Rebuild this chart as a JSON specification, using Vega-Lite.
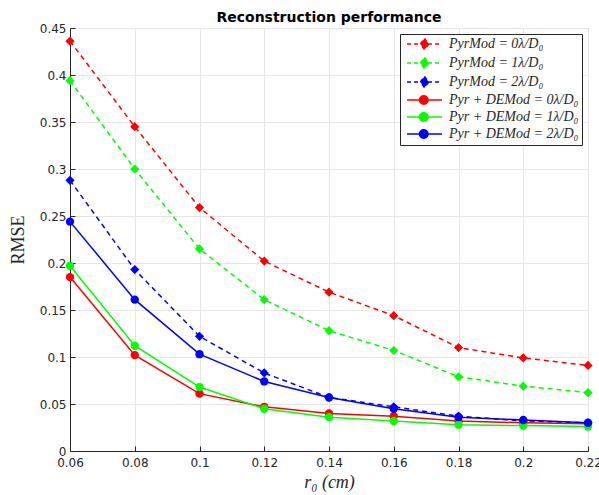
{
  "$schema": "https://vega.github.io/schema/vega-lite/v6.json",
  "width": 518,
  "height": 423,
  "autosize": {"type": "none"},
  "padding": {"left": 70, "top": 28, "right": 11, "bottom": 44},
  "background": "white",
  "title": {"text": "Reconstruction performance", "fontSize": 14, "fontWeight": "bold", "font": "DejaVu Sans", "color": "#000000", "offset": -3, "anchor": "middle"},
  "config": {
    "view": {"stroke": "#262626", "strokeWidth": 1},
    "axis": {"labelFont": "DejaVu Sans", "labelFontSize": 12, "labelColor": "#262626", "domainColor": "#262626", "tickColor": "#262626", "gridColor": "#e6e6e6", "gridOpacity": 1, "titleFont": "Liberation Serif", "titleFontSize": 18, "titleFontWeight": "normal", "titleColor": "#262626"}
  },
  "data": {"values": [
    {"s": "PyrMod = 0λ/D₀", "r": 0.06, "v": 0.436}, {"s": "PyrMod = 0λ/D₀", "r": 0.08, "v": 0.345}, {"s": "PyrMod = 0λ/D₀", "r": 0.10, "v": 0.259}, {"s": "PyrMod = 0λ/D₀", "r": 0.12, "v": 0.202}, {"s": "PyrMod = 0λ/D₀", "r": 0.14, "v": 0.169}, {"s": "PyrMod = 0λ/D₀", "r": 0.16, "v": 0.144}, {"s": "PyrMod = 0λ/D₀", "r": 0.18, "v": 0.110}, {"s": "PyrMod = 0λ/D₀", "r": 0.20, "v": 0.099}, {"s": "PyrMod = 0λ/D₀", "r": 0.22, "v": 0.091},
    {"s": "PyrMod = 1λ/D₀", "r": 0.06, "v": 0.394}, {"s": "PyrMod = 1λ/D₀", "r": 0.08, "v": 0.300}, {"s": "PyrMod = 1λ/D₀", "r": 0.10, "v": 0.215}, {"s": "PyrMod = 1λ/D₀", "r": 0.12, "v": 0.161}, {"s": "PyrMod = 1λ/D₀", "r": 0.14, "v": 0.128}, {"s": "PyrMod = 1λ/D₀", "r": 0.16, "v": 0.107}, {"s": "PyrMod = 1λ/D₀", "r": 0.18, "v": 0.079}, {"s": "PyrMod = 1λ/D₀", "r": 0.20, "v": 0.069}, {"s": "PyrMod = 1λ/D₀", "r": 0.22, "v": 0.062},
    {"s": "PyrMod = 2λ/D₀", "r": 0.06, "v": 0.288}, {"s": "PyrMod = 2λ/D₀", "r": 0.08, "v": 0.193}, {"s": "PyrMod = 2λ/D₀", "r": 0.10, "v": 0.122}, {"s": "PyrMod = 2λ/D₀", "r": 0.12, "v": 0.083}, {"s": "PyrMod = 2λ/D₀", "r": 0.14, "v": 0.057}, {"s": "PyrMod = 2λ/D₀", "r": 0.16, "v": 0.047}, {"s": "PyrMod = 2λ/D₀", "r": 0.18, "v": 0.037}, {"s": "PyrMod = 2λ/D₀", "r": 0.20, "v": 0.032}, {"s": "PyrMod = 2λ/D₀", "r": 0.22, "v": 0.030},
    {"s": "Pyr + DEMod = 0λ/D₀", "r": 0.06, "v": 0.185}, {"s": "Pyr + DEMod = 0λ/D₀", "r": 0.08, "v": 0.102}, {"s": "Pyr + DEMod = 0λ/D₀", "r": 0.10, "v": 0.061}, {"s": "Pyr + DEMod = 0λ/D₀", "r": 0.12, "v": 0.047}, {"s": "Pyr + DEMod = 0λ/D₀", "r": 0.14, "v": 0.040}, {"s": "Pyr + DEMod = 0λ/D₀", "r": 0.16, "v": 0.037}, {"s": "Pyr + DEMod = 0λ/D₀", "r": 0.18, "v": 0.032}, {"s": "Pyr + DEMod = 0λ/D₀", "r": 0.20, "v": 0.030}, {"s": "Pyr + DEMod = 0λ/D₀", "r": 0.22, "v": 0.029},
    {"s": "Pyr + DEMod = 1λ/D₀", "r": 0.06, "v": 0.197}, {"s": "Pyr + DEMod = 1λ/D₀", "r": 0.08, "v": 0.112}, {"s": "Pyr + DEMod = 1λ/D₀", "r": 0.10, "v": 0.068}, {"s": "Pyr + DEMod = 1λ/D₀", "r": 0.12, "v": 0.045}, {"s": "Pyr + DEMod = 1λ/D₀", "r": 0.14, "v": 0.036}, {"s": "Pyr + DEMod = 1λ/D₀", "r": 0.16, "v": 0.032}, {"s": "Pyr + DEMod = 1λ/D₀", "r": 0.18, "v": 0.028}, {"s": "Pyr + DEMod = 1λ/D₀", "r": 0.20, "v": 0.027}, {"s": "Pyr + DEMod = 1λ/D₀", "r": 0.22, "v": 0.026},
    {"s": "Pyr + DEMod = 2λ/D₀", "r": 0.06, "v": 0.244}, {"s": "Pyr + DEMod = 2λ/D₀", "r": 0.08, "v": 0.161}, {"s": "Pyr + DEMod = 2λ/D₀", "r": 0.10, "v": 0.103}, {"s": "Pyr + DEMod = 2λ/D₀", "r": 0.12, "v": 0.074}, {"s": "Pyr + DEMod = 2λ/D₀", "r": 0.14, "v": 0.057}, {"s": "Pyr + DEMod = 2λ/D₀", "r": 0.16, "v": 0.045}, {"s": "Pyr + DEMod = 2λ/D₀", "r": 0.18, "v": 0.036}, {"s": "Pyr + DEMod = 2λ/D₀", "r": 0.20, "v": 0.033}, {"s": "Pyr + DEMod = 2λ/D₀", "r": 0.22, "v": 0.030}
  ]},
  "encoding": {
    "x": {"field": "r", "type": "quantitative", "scale": {"domain": [0.06, 0.22], "nice": false, "zero": false},
      "axis": {"values": [0.06, 0.08, 0.1, 0.12, 0.14, 0.16, 0.18, 0.2, 0.22], "format": ".2~f", "title": "r₀ (cm)", "titleFontStyle": "italic", "titlePadding": 5, "tickSize": -5, "labelPadding": 11, "labelFlush": false, "labelOverlap": false}},
    "y": {"field": "v", "type": "quantitative", "scale": {"domain": [0, 0.45], "nice": false},
      "axis": {"values": [0, 0.05, 0.1, 0.15, 0.2, 0.25, 0.3, 0.35, 0.4, 0.45], "format": ".2~f", "title": "RMSE", "titlePadding": 12, "tickSize": -5, "labelPadding": 9, "labelFlush": false, "labelOverlap": false}},
    "color": {"field": "s", "type": "nominal",
      "scale": {"domain": ["PyrMod = 0λ/D₀", "PyrMod = 1λ/D₀", "PyrMod = 2λ/D₀", "Pyr + DEMod = 0λ/D₀", "Pyr + DEMod = 1λ/D₀", "Pyr + DEMod = 2λ/D₀"],
                "range": ["#ff0000", "#00ff00", "#0000ff", "#ff0000", "#00ff00", "#0000ff"]},
      "legend": {"orient": "top-right", "offset": 6, "title": null, "strokeColor": "#262626", "fillColor": "white", "padding": 3, "labelFont": "Liberation Serif", "labelFontStyle": "italic", "labelFontSize": 14, "labelColor": "#262626", "symbolSize": 100, "rowPadding": 1, "labelOffset": 32,
        "encode": {"symbols": {"update": {
          "shape": {"signal": "indexof(datum.value,'DE')>=0 ? 'M-0.6,0H6.4M1.9,0A0.85,0.85,0,1,0,3.6,0A0.85,0.85,0,1,0,1.9,0Z' : 'M-0.6,0H6.4M2.9,-1.1L3.75,0L2.9,1.1L2.05,0Z'"},
          "strokeDash": {"signal": "indexof(datum.value,'DE')>=0 ? [] : [4,3]"},
          "fill": {"scale": "color", "field": "value"},
          "stroke": {"scale": "color", "field": "value"},
          "strokeWidth": {"value": 1.5},
          "size": {"value": 100},
          "opacity": {"value": 1}
        }}}}}
  },
  "layer": [
    {"transform": [{"filter": "indexof(datum.s,'DE')<0"}],
     "mark": {"type": "line", "strokeWidth": 1.5, "strokeDash": [5, 4]}},
    {"transform": [{"filter": "indexof(datum.s,'DE')>=0"}],
     "mark": {"type": "line", "strokeWidth": 1.5}},
    {"transform": [{"filter": "indexof(datum.s,'DE')<0"}],
     "mark": {"type": "point", "filled": true, "size": 85, "opacity": 1, "shape": "diamond"}},
    {"transform": [{"filter": "indexof(datum.s,'DE')>=0"}],
     "mark": {"type": "point", "filled": true, "size": 70, "opacity": 1, "shape": "circle"}}
  ]
}
